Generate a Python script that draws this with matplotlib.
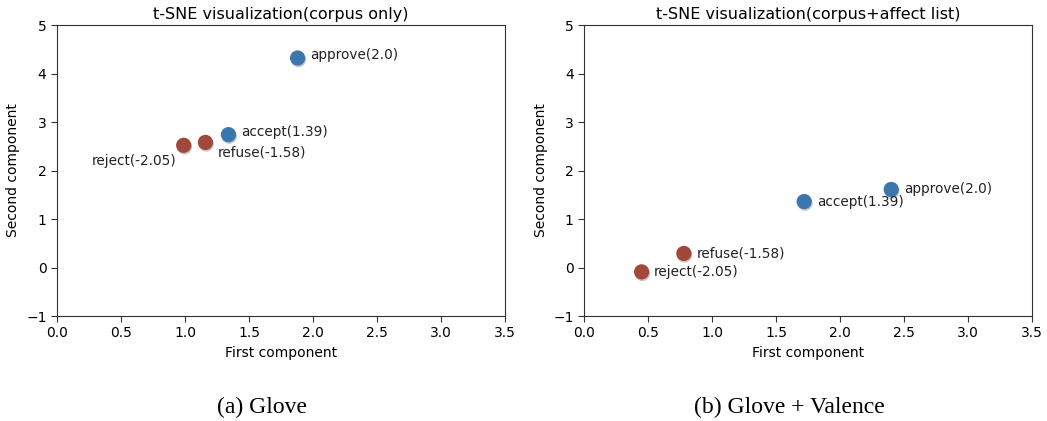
import matplotlib
matplotlib.use("Agg")
import matplotlib.pyplot as plt
import matplotlib.patheffects as pe

words = ["approve(2.0)", "accept(1.39)", "refuse(-1.58)", "reject(-2.05)"]
polarity = ["pos", "pos", "neg", "neg"]
x_corpus = [1.88, 1.34, 1.16, 0.99]
y_corpus = [4.32, 2.74, 2.58, 2.52]
x_affect = [2.40, 1.72, 0.78, 0.45]
y_affect = [1.61, 1.36, 0.29, -0.09]
titles = ["t-SNE visualization(corpus only)", "t-SNE visualization(corpus+affect list)"]
captions = ["(a) Glove", "(b) Glove + Valence"]
xticks = [0.0, 0.5, 1.0, 1.5, 2.0, 2.5, 3.0, 3.5]
yticks = [-1, 0, 1, 2, 3, 4, 5]

colors = {"pos": "#3b76ae", "neg": "#a1483a"}

# label offsets in points (dx, dy, ha)
offs_corpus = [(9, 2, "left"), (9, 2, "left"), (9, -7, "left"), (-5, -11, "right")]
offs_affect = [(9, 0, "left"), (9, 0, "left"), (9, 0, "left"), (9, 0, "left")]

fig = plt.figure(figsize=(10.47, 4.21), dpi=100)
axes = [fig.add_axes([0.0544, 0.2494, 0.4279, 0.6912]),
        fig.add_axes([0.5578, 0.2494, 0.4279, 0.6912])]

for ax, xs, ys, offs, title in zip(axes, [x_corpus, x_affect], [y_corpus, y_affect],
                                   [offs_corpus, offs_affect], titles):
    cols = [colors[p] for p in polarity]
    sc = ax.scatter(xs, ys, s=120, c=cols, zorder=3, linewidths=0)
    sc.set_path_effects([pe.SimplePatchShadow(offset=(0.6, -1.2), shadow_rgbFace="black", alpha=0.22),
                         pe.Normal()])
    for w, x, y, (dx, dy, ha) in zip(words, xs, ys, offs):
        ax.annotate(w, (x, y), xytext=(dx, dy), textcoords="offset points",
                    ha=ha, va="center", fontsize=9.8, color="#222222")
    ax.set_xlim(0, 3.5)
    ax.set_ylim(-1, 5)
    ax.set_xticks(xticks)
    ax.set_yticks(yticks)
    ax.tick_params(labelsize=10, length=4, color="#333333")
    ax.set_xlabel("First component", fontsize=10)
    ax.set_ylabel("Second component", fontsize=10)
    ax.set_title(title, fontsize=11.5, pad=4)
    for s in ax.spines.values():
        s.set_color("#333333")

fig.text(0.250, 0.018, captions[0], ha="center", va="baseline",
         fontsize=17, family="Liberation Serif")
fig.text(0.754, 0.018, captions[1], ha="center", va="baseline",
         fontsize=17, family="Liberation Serif")

fig.savefig("out.png", dpi=100)
